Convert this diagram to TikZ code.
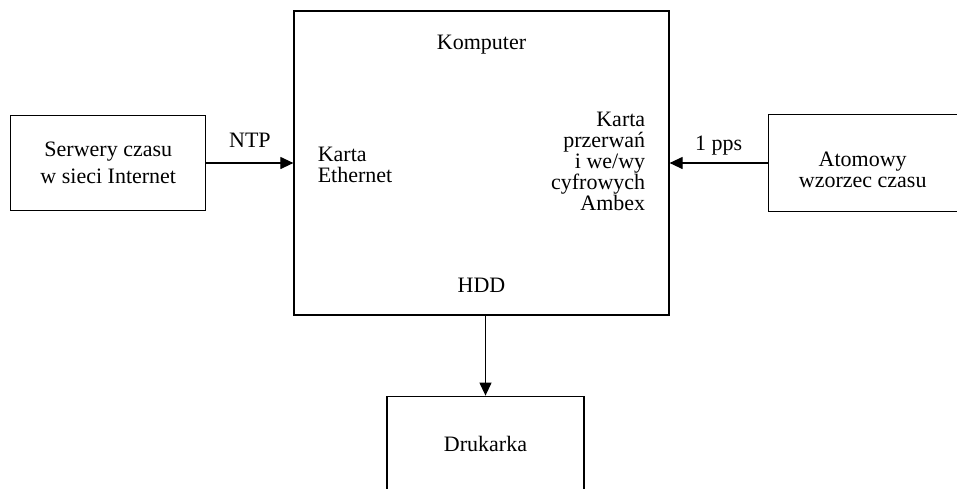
\documentclass[tikz,border=0pt]{standalone}
\usepackage{fontspec}
\setmainfont{Liberation Serif}
\usetikzlibrary{arrows.meta,positioning}
\begin{document}
\begin{tikzpicture}[>={Triangle[length=6.5pt,width=6pt]},
box/.style={draw,line width=0.6pt,inner sep=0pt,align=center,font=\fontsize{11}{11}\selectfont},
txt/.style={inner sep=0pt,align=center,font=\fontsize{11}{10.5}\selectfont},
flow/.style={->,line width=0.6pt},
lab/.style={anchor=base,inner sep=0pt,font=\fontsize{11}{13}\selectfont}]
\useasboundingbox (-240.75pt,-162.5pt) rectangle (237.75pt,81.5pt);
\node[box,minimum width=187.5pt,minimum height=152pt] (komp) {};
\node[box,minimum width=97.5pt,minimum height=47.5pt,left=43.5pt of komp,font=\fontsize{11}{13.5}\selectfont] (srv) {Serwery czasu\\w sieci Internet};
\node[box,minimum width=94.5pt,minimum height=48.5pt,right=49pt of komp] (atom) {};
\node[txt] (atomt) at ([yshift=-3.5pt]atom.center) {Atomowy\\wzorzec czasu};
\node[box,minimum width=98.5pt,minimum height=47.5pt,below=40pt of komp,xshift=2pt] (druk) {Drukarka};
\node[lab] (kt) at ([yshift=-19.5pt]komp.north) {Komputer};
\node[txt,anchor=west,align=left] (eth) at ([xshift=12pt,yshift=-1pt]komp.west) {Karta\\Ethernet};
\node[txt,anchor=east,align=right] (amb) at ([xshift=-12pt,yshift=1pt]komp.east) {Karta\\przerwań\\i we/wy\\cyfrowych\\Ambex};
\node[lab] (hdd) at ([yshift=11.5pt]komp.south) {HDD};
\draw[flow] (srv) -- (komp) node[lab,midway,yshift=8pt] {NTP};
\draw[flow] (atom) -- (komp) node[lab,midway,yshift=6.5pt] {1 pps};
\draw[flow] (komp.south -| druk.north) -- (druk);
\end{tikzpicture}
\end{document}
